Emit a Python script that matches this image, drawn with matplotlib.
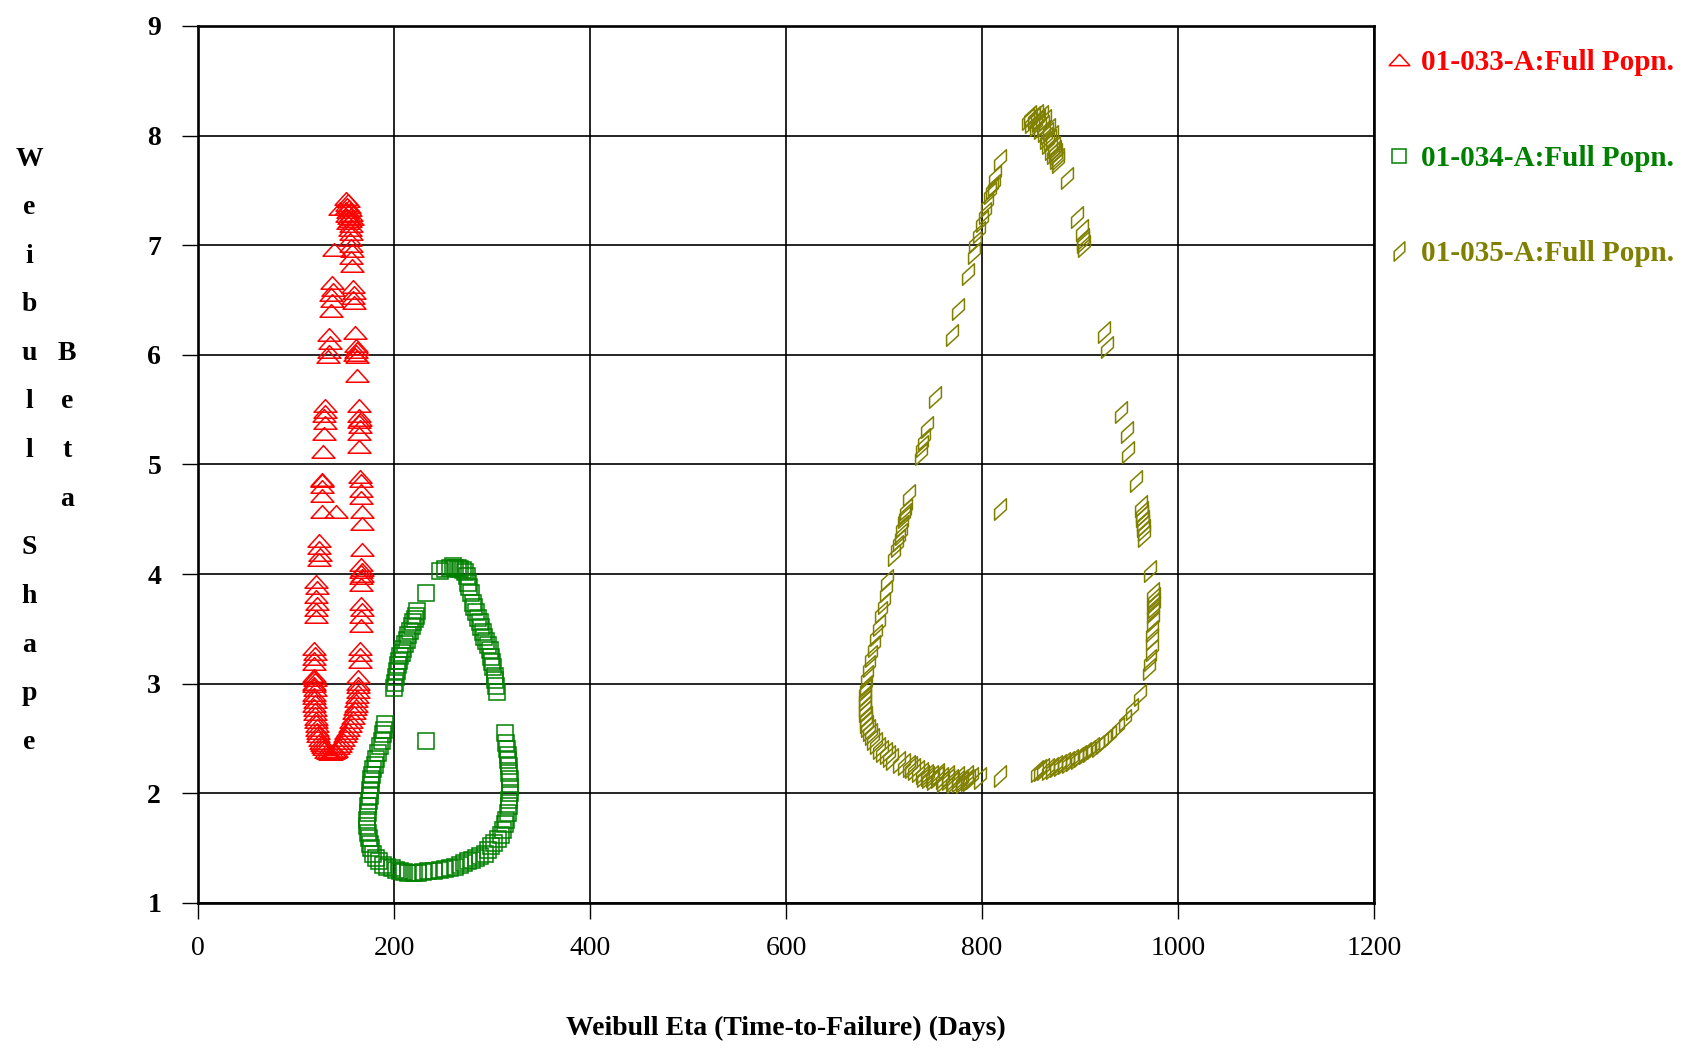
import matplotlib
matplotlib.use("Agg")
import matplotlib.pyplot as plt
from matplotlib.path import Path

# Weibull eta / beta pairs for the three populations
eta_033 = [151, 153, 152, 154, 151, 155, 153, 156, 152, 154, 157, 155, 153, 156, 155, 156, 155, 145,
           139, 156, 157, 156, 157,
           137, 138, 136, 137, 136, 158, 159, 158, 159,
           134, 135, 134, 133, 160, 161, 162, 161, 160, 162, 162,
           129.5, 130, 129, 130, 129, 128, 164, 164, 165, 164, 165, 164, 164,
           127, 165, 126, 126, 126, 166, 166, 166,
           126, 141, 167, 167,
           123, 123, 124, 123, 167, 166, 167, 166, 167, 166, 166,
           120, 121, 120, 121, 120, 120, 166, 167, 166, 166,
           118, 119, 118, 118, 165, 165, 165, 163,
           118, 118, 119, 118, 118, 119,
           118, 118, 119, 118.5, 119, 119.3, 120, 120, 121, 121, 122, 122.7, 124, 125, 126.5, 127.8,
           129, 131, 133, 134.6, 136, 138, 139.5, 141, 143, 144.7, 146, 148, 150, 151.5, 153, 155,
           156.5, 158, 159, 160, 161, 161.7, 162.5, 163.4, 163.5, 163]
beta_033 = [7.42, 7.40, 7.37, 7.35, 7.33, 7.32, 7.30, 7.28, 7.27, 7.25, 7.24, 7.22, 7.20, 7.18, 7.14, 7.10, 7.05, 7.33,
            6.96, 6.99, 6.95, 6.88, 6.81,
            6.66, 6.59, 6.55, 6.49, 6.40, 6.62, 6.56, 6.52, 6.47,
            6.18, 6.11, 6.03, 5.98, 6.20, 6.08, 6.05, 6.03, 6.00, 5.98, 5.81,
            5.53, 5.48, 5.44, 5.38, 5.28, 5.11, 5.53, 5.44, 5.41, 5.39, 5.34, 5.28, 5.16,
            4.86, 4.89, 4.85, 4.79, 4.71, 4.85, 4.76, 4.69,
            4.57, 4.57, 4.57, 4.46,
            4.30, 4.24, 4.17, 4.13, 4.22, 4.08, 4.04, 4.02, 3.98, 3.96, 3.90,
            3.93, 3.87, 3.79, 3.73, 3.67, 3.61, 3.73, 3.67, 3.61, 3.53,
            3.32, 3.27, 3.23, 3.18, 3.32, 3.26, 3.20, 3.06,
            3.07, 3.05, 3.03, 3.00, 2.98, 2.94,
            2.90, 2.87, 2.83, 2.80, 2.76, 2.72, 2.68, 2.65, 2.61, 2.58, 2.55, 2.52, 2.49, 2.46, 2.44, 2.42,
            2.40, 2.38, 2.37, 2.36, 2.36, 2.37, 2.38, 2.39, 2.41, 2.43, 2.46, 2.49, 2.52, 2.55, 2.58, 2.61,
            2.65, 2.69, 2.73, 2.77, 2.80, 2.84, 2.88, 2.92, 2.97, 3.00]

eta_034 = [246.8, 252, 257, 260, 262, 265, 267, 270, 272, 274,
           275.6, 277, 279, 280.7, 282, 284, 286, 287.5, 289, 291, 292, 294, 296, 297.6, 299, 300, 301,
           302.7, 303, 304, 305,
           233, 232.5,
           223.7, 222, 221, 219, 218, 216, 214.6, 213, 211, 209, 207.8, 206, 205, 204, 203, 202, 201, 200,
           191, 190, 189, 187.5, 186, 184, 182, 180.5, 179, 178, 177, 176, 175.6, 175, 174, 173.5, 173,
           172.5, 172, 173, 174, 175.5, 177, 179, 182, 185, 189, 193, 197.6, 202, 206, 210, 214.6, 220,
           224.7, 230, 235, 241, 246.8, 252, 257, 262, 267, 271, 275.6, 280, 284, 288, 292.5, 296, 299,
           302, 306, 309, 311, 313, 314.6, 316, 317, 317.5, 318, 318, 318, 317.8, 317.3, 316.5, 316, 315,
           314.6, 313.6]
beta_034 = [4.03, 4.05, 4.06, 4.07, 4.06, 4.06, 4.05, 4.04, 4.02, 3.98,
            3.92, 3.88, 3.83, 3.74, 3.70, 3.65, 3.60, 3.56, 3.52, 3.47, 3.43, 3.39, 3.35, 3.31, 3.24, 3.20, 3.15,
            3.07, 3.03, 2.98, 2.92,
            3.83, 2.48,
            3.66, 3.62, 3.59, 3.56, 3.53, 3.48, 3.44, 3.40, 3.36, 3.32, 3.28, 3.25, 3.21, 3.17, 3.12, 3.06, 3.01, 2.96,
            2.63, 2.58, 2.54, 2.48, 2.43, 2.37, 2.31, 2.26, 2.22, 2.17, 2.13, 2.08, 2.03, 1.98, 1.93, 1.88, 1.82,
            1.76, 1.70, 1.64, 1.59, 1.54, 1.50, 1.45, 1.41, 1.38, 1.35, 1.33, 1.32, 1.30, 1.29, 1.28, 1.27, 1.27,
            1.27, 1.28, 1.29, 1.29, 1.30, 1.31, 1.32, 1.33, 1.35, 1.36, 1.38, 1.39, 1.41, 1.43, 1.45, 1.48, 1.52,
            1.55, 1.58, 1.62, 1.67, 1.72, 1.76, 1.82, 1.88, 1.94, 2.00, 2.06, 2.13, 2.19, 2.25, 2.30, 2.35, 2.40,
            2.46, 2.55]

eta_035 = [849, 852.6, 856, 857.6, 861, 862.7, 864, 866, 868, 869.5, 871, 873, 874, 876, 878,
           847, 850, 855, 859, 863, 865, 867, 870, 872, 875, 878, 853, 858,
           886.5, 896.6, 902, 903, 904, 903.5,
           924.8, 928, 941.7, 947.5, 949, 957.6,
           962.7, 963, 963, 964, 964.4, 965, 965.4, 971,
           974.6, 975, 974.6, 975, 974.6, 974.6, 973.6, 973, 973, 971, 970,
           961, 952.6, 945.8, 939, 930.5, 926, 922, 918, 913.6, 909, 905, 900, 896.6, 892, 888, 884,
           879.7, 875, 871, 867, 862.7, 859, 856,
           818.6, 798,
           789.8, 785, 779.7, 775, 769.5, 765, 759, 754, 749, 744, 739, 735, 730.5, 728, 725.4, 720,
           715, 708.5, 705, 701.7, 698, 695, 691.5, 689, 686.4, 684.5, 683, 682, 681.4, 681, 680.7,
           680.7, 680.7, 681, 681.4, 683, 684.8, 686.4, 689.8, 691.5, 695, 696.6, 700, 701.7, 703.4,
           750, 760, 770, 780, 787, 745, 740, 755, 765, 775, 785,
           710, 713.6, 715, 717, 718.6, 720, 721, 722, 725.4, 818.6,
           738, 739, 740.7, 744, 752, 769.5, 775.6, 785.8, 791.5, 793, 796.6, 800, 803, 805, 808.5,
           810, 812, 813.6, 818.6]
beta_035 = [8.18, 8.16, 8.19, 8.13, 8.18, 8.09, 8.14, 8.02, 8.06, 7.96, 8.00, 7.90, 7.86, 7.83, 7.79,
            8.15, 8.12, 8.10, 8.07, 8.04, 7.98, 7.93, 7.88, 7.84, 7.80, 7.76, 8.17, 8.15,
            7.61, 7.26, 7.14, 7.06, 6.99, 7.03,
            6.21, 6.07, 5.48, 5.30, 5.11, 4.85,
            4.62, 4.57, 4.53, 4.48, 4.44, 4.40, 4.35, 4.03,
            3.83, 3.78, 3.74, 3.70, 3.65, 3.57, 3.48, 3.41, 3.31, 3.22, 3.13,
            2.90, 2.77, 2.67, 2.60, 2.52, 2.49, 2.46, 2.43, 2.41, 2.39, 2.37, 2.34, 2.32, 2.30, 2.29, 2.28,
            2.26, 2.25, 2.23, 2.22, 2.22, 2.21, 2.20,
            2.16, 2.14,
            2.14, 2.12, 2.125, 2.11, 2.125, 2.13, 2.14, 2.15, 2.16, 2.17, 2.19, 2.20, 2.22, 2.24, 2.25, 2.27,
            2.29, 2.31, 2.34, 2.37, 2.39, 2.41, 2.46, 2.50, 2.54, 2.58, 2.61, 2.65, 2.70, 2.75, 2.80,
            2.85, 2.89, 2.94, 2.98, 3.07, 3.16, 3.25, 3.34, 3.44, 3.54, 3.65, 3.74, 3.85, 3.95,
            2.13, 2.11, 2.10, 2.10, 2.12, 2.15, 2.16, 2.18, 2.16, 2.15, 2.16,
            4.17, 4.26, 4.31, 4.37, 4.44, 4.52, 4.55, 4.59, 4.72, 4.59,
            5.10, 5.17, 5.23, 5.34, 5.62, 6.18, 6.42, 6.74, 6.93, 7.03, 7.12, 7.22, 7.29, 7.38, 7.48,
            7.52, 7.55, 7.63, 7.78]

labels = ["01-033-A:Full Popn.", "01-034-A:Full Popn.", "01-035-A:Full Popn."]
colors = ["#ff0000", "#008000", "#808000"]

# flat open triangle and slanted parallelogram markers
tri = Path([(-1, -0.5), (1, -0.5), (0, 0.6), (-1, -0.5)],
           [Path.MOVETO, Path.LINETO, Path.LINETO, Path.CLOSEPOLY])
para = Path([(-0.55, -1), (0.55, 0), (0.55, 1), (-0.55, 0), (-0.55, -1)],
            [Path.MOVETO, Path.LINETO, Path.LINETO, Path.LINETO, Path.CLOSEPOLY])

serif = "Liberation Serif"

fig = plt.figure(figsize=(16.94, 10.48), dpi=100)
ax = fig.add_axes([0.1169, 0.1384, 0.6942, 0.8368])

ax.plot(eta_033, beta_033, ls="none", marker=tri, ms=16.5, mfc="none", mec=colors[0], mew=1.1,
        label=labels[0])
ax.plot(eta_034, beta_034, ls="none", marker="s", ms=11.5, mfc="none", mec=colors[1], mew=1.1,
        label=labels[1])
ax.plot(eta_035, beta_035, ls="none", marker=para, ms=15.5, mfc="none", mec=colors[2], mew=1.1,
        label=labels[2])

ax.set_xlim(0, 1200)
ax.set_ylim(1, 9)
ax.set_xticks(range(0, 1201, 200))
ax.set_yticks(range(1, 10))
ax.grid(True, color="black", lw=1.2)
ax.set_axisbelow(True)
for s in ax.spines.values():
    s.set_linewidth(1.9)
ax.tick_params(axis="both", direction="out", length=11.5, width=1.0, color="black")
ax.tick_params(axis="y", pad=15)
ax.tick_params(axis="x", pad=12)
for t in ax.get_yticklabels():
    t.set_fontfamily(serif)
    t.set_fontweight("bold")
    t.set_fontsize(20)
for t in ax.get_xticklabels():
    t.set_fontfamily(serif)
    t.set_fontsize(20)

ax.set_xlabel("Weibull Eta (Time-to-Failure) (Days)", family=serif, weight="bold", fontsize=20,
              labelpad=40)

# stacked vertical y-axis caption
dy = 48.6 / 1048
for i, ch in enumerate("Weibull Shape"):
    fig.text(29 / 1694, 1 - 159 / 1048 - i * dy, ch, family=serif, weight="bold", fontsize=20,
             ha="center", va="center")
for i, ch in enumerate("Beta"):
    fig.text(67 / 1694, 1 - 159 / 1048 - (i + 4) * dy, ch, family=serif, weight="bold", fontsize=20,
             ha="center", va="center")

ax.legend(loc="upper left", bbox_to_anchor=(0.819, 0.953), bbox_transform=fig.transFigure,
          frameon=False, borderpad=0, borderaxespad=0, labelspacing=2.35, handlelength=0.8,
          handletextpad=0.35, markerscale=0.9, labelcolor="markeredgecolor",
          prop=dict(family=serif, weight="bold", size=21))

fig.savefig("out.png", dpi=100, facecolor="white")
